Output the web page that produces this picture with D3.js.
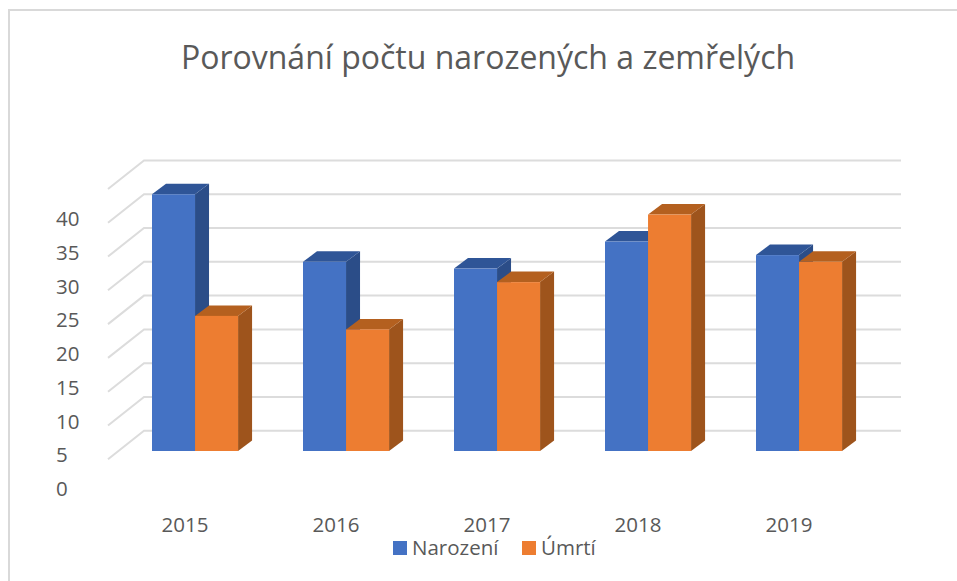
<!DOCTYPE html>
<html><head><meta charset="utf-8">
<script src="https://cdn.jsdelivr.net/npm/d3@7"></script>
<style>html,body{margin:0;padding:0;background:#fff}svg{display:block}text{font-family:"Open Sans",sans-serif;fill:#595959}</style>
</head><body><svg id="c" width="957" height="581"></svg>
<script>
const title = "Porovnání počtu narozených a zemřelých";
const years = ["2015","2016","2017","2018","2019"];
const births = [38,28,27,31,29];
const deaths = [20,18,25,35,28];
const seriesNames = ["Narození","Úmrtí"];
const tickValues = [0,5,10,15,20,25,30,35,40];
const gridValues = [5,10,15,20,25,30,35,40,45];

const svg = d3.select("#c");
svg.append("rect").attr("x",9).attr("y",10).attr("width",960).attr("height",590).attr("fill","#fff").attr("stroke","#d9d9d9").attr("stroke-width",2);

const y = d3.scaleLinear().domain([0,45]).range([451,147]);
const x0 = d3.scaleBand().domain(years).range([114.25,879.82]).paddingInner(0.43).paddingOuter(0.25);
const x1 = d3.scaleBand().domain(seriesNames).range([0,x0.bandwidth()]);
const depth = {dx:14,dy:-10.5};
const wall = {dx:36,dy:-28.5,front:42,left:108,right:901};

// gridlines
const g = svg.append("g").attr("fill","none").attr("stroke","#dcdcdc").attr("stroke-width",2);
gridValues.forEach(v=>{
  const yf=y(v)+wall.front;
  g.append("path").attr("d",d3.line()([[wall.left,yf],[wall.left+wall.dx,yf+wall.dy],[wall.right,yf+wall.dy]]));
});

// tick labels
svg.append("g").selectAll("text").data(tickValues).join("text")
  .attr("x",56).attr("y",d=>y(d)+38).attr("dy","0.35em").attr("font-size",20.5).text(d=>d);

const palette = [
 {front:"#4472c4",side:"#2b4d88",top:"#2f5597"},
 {front:"#ed7d31",side:"#9e541c",top:"#b4601f"}
];
const values=[births,deaths];
const line=d3.line();
years.forEach((yr,i)=>{
  seriesNames.forEach((s,k)=>{
    const xl=x0(yr)+x1(s), w=x1.bandwidth(), top=y(values[k][i]), base=y(0), c=palette[k];
    const G=svg.append("g");
    G.append("path").attr("fill",c.side).attr("d",line([[xl+w,top],[xl+w+depth.dx,top+depth.dy],[xl+w+depth.dx,base+depth.dy],[xl+w,base]])+"Z");
    G.append("path").attr("fill",c.top).attr("d",line([[xl,top],[xl+depth.dx,top+depth.dy],[xl+w+depth.dx,top+depth.dy],[xl+w,top]])+"Z");
    G.append("rect").attr("x",xl).attr("y",top).attr("width",w).attr("height",base-top).attr("fill",c.front);
  });
});

// category labels
svg.append("g").selectAll("text").data(years).join("text")
  .attr("x",d=>x0(d)+x0.bandwidth()/2-10).attr("y",525).attr("dy","0.35em").attr("text-anchor","middle").attr("font-size",20.5).text(d=>d);

// title
svg.append("text").attr("x",488).attr("y",58).attr("dy","0.35em").attr("text-anchor","middle").attr("font-size",32).text(title);

// legend
const lx=[393,522];
seriesNames.forEach((s,k)=>{
  svg.append("rect").attr("x",lx[k]).attr("y",541).attr("width",14).attr("height",14).attr("fill",palette[k].front);
  svg.append("text").attr("x",lx[k]+19).attr("y",548).attr("dy","0.35em").attr("font-size",20.5).text(s);
});
</script></body></html>
